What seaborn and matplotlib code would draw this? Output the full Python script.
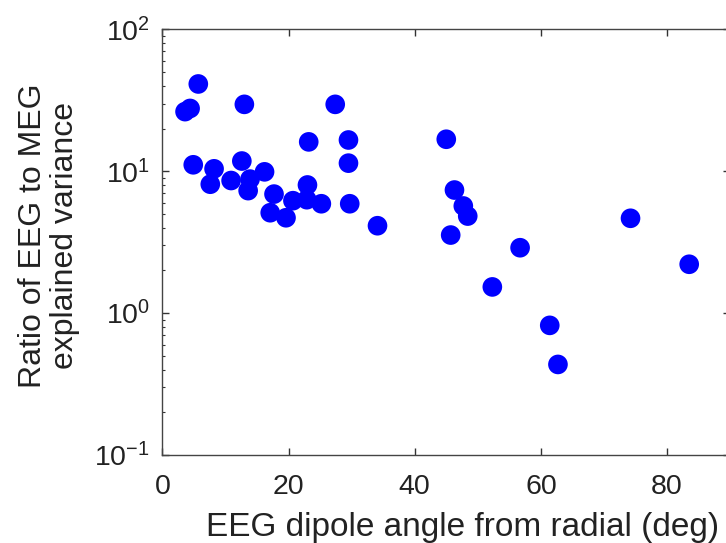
import matplotlib
matplotlib.use("Agg")
import matplotlib.pyplot as plt
import numpy as np
import pandas as pd
import seaborn as sns

# dipole angle (deg) and EEG/MEG explained-variance ratio
angle = [5.7, 3.6, 4.4, 13.0, 27.4, 23.2, 29.5, 29.5, 4.9, 12.6,
         8.2, 7.6, 10.9, 13.9, 13.6, 16.2, 17.7, 17.1, 19.6, 20.7,
         23.0, 22.9, 25.2, 29.7, 34.1, 45.0, 46.3, 47.7, 48.4, 45.7,
         56.7, 74.2, 83.5, 52.3, 61.4, 62.7]
ratio = [41.2, 26.3, 27.7, 29.6, 29.6, 16.1, 16.6, 11.4, 11.1, 11.8,
         10.4, 8.1, 8.6, 8.8, 7.3, 9.9, 6.9, 5.1, 4.7, 6.2,
         8.0, 6.3, 5.9, 5.9, 4.13, 16.8, 7.37, 5.69, 4.83, 3.55,
         2.89, 4.66, 2.21, 1.53, 0.82, 0.435]

df = pd.DataFrame({"angle": angle, "ratio": ratio})

sns.set_style("ticks")
plt.rcParams["font.family"] = ["Liberation Sans", "DejaVu Sans"]
plt.rcParams["mathtext.fontset"] = "custom"
plt.rcParams["mathtext.rm"] = "Liberation Sans"
plt.rcParams["xtick.direction"] = "in"
plt.rcParams["ytick.direction"] = "in"

fig = plt.figure(figsize=(7.26, 5.43), dpi=100)
ax = fig.add_axes([0.2236, 0.162, 0.7822, 0.784])

sns.scatterplot(data=df, x="angle", y="ratio", ax=ax, color="#0000ff",
                edgecolor="none", s=200, zorder=3)

ax.set_yscale("log")
ax.set_xlim(0, 90)
ax.set_ylim(0.1, 100)
ax.set_xticks([0, 20, 40, 60, 80])
ax.tick_params(which="both", top=True, right=True, labelsize=20.5,
               color="#333333", labelcolor="#222222")
ax.tick_params(which="major", length=5, width=1)
ax.tick_params(which="minor", length=2.5, width=0.8)
ax.tick_params(axis="x", which="major", pad=14)
ax.tick_params(axis="y", which="major", pad=9)
for sp in ax.spines.values():
    sp.set_color("#444444")
    sp.set_linewidth(1)

ax.set_xlabel("EEG dipole angle from radial (deg)", fontsize=24,
              color="#222222", labelpad=8)
ax.set_ylabel("Ratio of EEG to MEG\nexplained variance", fontsize=23,
              color="#222222", labelpad=10, linespacing=1.1)
# the original labels sit a little off-centre
ax.xaxis.label.set_x(0.528)
ax.yaxis.label.set_y(0.516)

fig.savefig("out.png", dpi=100)
